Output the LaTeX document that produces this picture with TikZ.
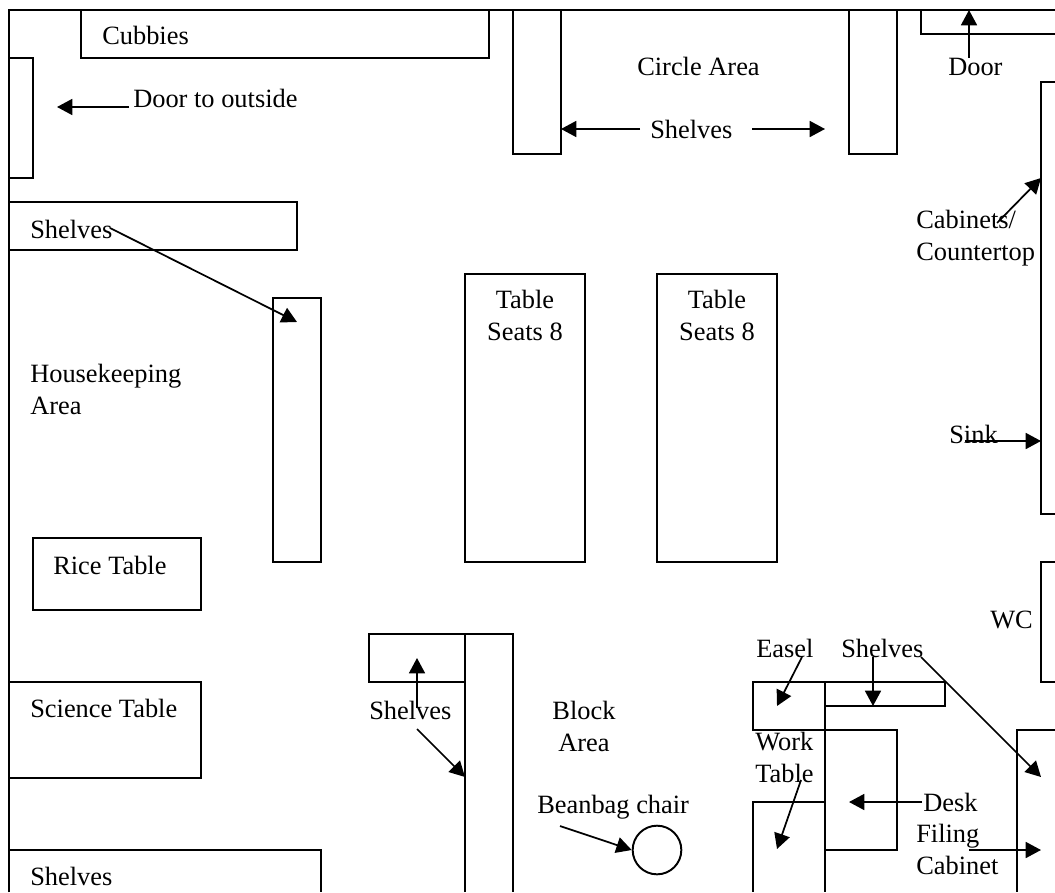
\documentclass[tikz,border=0pt]{standalone}
\usepackage{xcolor}
\usepackage{fontspec}
\setmainfont{Liberation Serif}
\usetikzlibrary{arrows.meta}
\tikzset{%
  >={Triangle[width=12pt,length=11.5pt]},
  % Specifications for style of shapes and labels:
       furniture/.style = {draw=black, line width=1.45pt},
           label/.style = {inner sep=0pt, anchor=base west, align=left,
                           font=\fontsize{19.8}{23.4}\selectfont},
      labelTable/.style = {label, anchor=base, align=center},
         pointer/.style = {->, draw=black, line width=1.3pt},
}

\begin{document}
\begin{tikzpicture}[x=0.75pt, y=-0.75pt]
  \path[use as bounding box, fill=white] (0,0) rectangle (1055,892);

  % Specification of walls and furniture
  \draw[furniture] (9,892) -- (9,10) -- (1055,10);
  \draw[furniture] (81,10) rectangle (489,58);     % cubbies
  \draw[furniture] (9,58) rectangle (33,178);      % outside door
  \draw[furniture] (9,202) rectangle (297,250);
  \draw[furniture] (273,298) rectangle (321,562);
  \draw[furniture] (513,10) rectangle (561,154);
  \draw[furniture] (849,10) rectangle (897,154);
  \draw[furniture] (1055,34) -- (921,34) -- (921,10);
  \draw[furniture] (1055,82) -- (1041,82) -- (1041,514) -- (1055,514);
  \draw[furniture] (1055,562) -- (1041,562) -- (1041,682) -- (1055,682);
  \draw[furniture] (465,274) rectangle (585,562);  % tables
  \draw[furniture] (657,274) rectangle (777,562);
  \draw[furniture] (33,538) rectangle (201,610);
  \draw[furniture] (9,682) rectangle (201,778);
  \draw[furniture] (9,892) -- (9,850) -- (321,850) -- (321,892);
  \draw[furniture] (369,634) rectangle (465,682);
  \draw[furniture] (465,892) -- (465,634) -- (513,634) -- (513,892);
  \draw[furniture] (753,682) rectangle (825,730);  % easel
  \draw[furniture] (825,682) rectangle (945,706);
  \draw[furniture] (825,730) -- (897,730) -- (897,850) -- (825,850);
  \draw[furniture] (825,682) -- (825,892);
  \draw[furniture] (825,802) -- (753,802) -- (753,892);
  \draw[furniture] (1055,730) -- (1017,730) -- (1017,892);
  \node (beanbag) [draw=black, line width=1.45pt, circle, inner sep=0pt,
                   minimum size=36.5pt] at (657,850) {};

  % Specification of labels (position only)
  \node (cubbies)      [label] at (102,45)  {Cubbies};
  \node (doorOutside)  [label] at (133,107) {Door to outside};
  \node (shelvesWall)  [label] at (30,238)  {Shelves};
  \node (circleArea)   [label] at (637,75)  {Circle Area};
  \node (shelvesCircle)[label] at (650,138) {Shelves};
  \node (door)         [label] at (948,75)  {Door};
  \node (cabinets)     [label] at (916,260) {Cabinets/\\Countertop};
  \node (tableLeft)    [labelTable] at (525,340) {Table\\Seats 8};
  \node (tableRight)   [labelTable] at (717,340) {Table\\Seats 8};
  \node (housekeeping) [label] at (30,414)  {Housekeeping\\Area};
  \node (sink)         [label] at (949,443) {Sink};
  \node (riceTable)    [label] at (53,574)  {Rice Table};
  \node (wc)           [label] at (990,628) {WC};
  \node (scienceTable) [label] at (30,717)  {Science Table};
  \node (shelvesBottom)[label] at (30,885)  {Shelves};
  \node (shelvesBlock) [label] at (369,719) {Shelves};
  \node (blockArea)    [labelTable] at (584,751) {Block\\Area};
  \node (beanbagChair) [label] at (537,813) {Beanbag chair};
  \node (easel)        [label] at (756,657) {Easel};
  \node (shelvesEasel) [label] at (841,657) {Shelves};
  \node (workTable)    [label] at (755,782) {Work\\Table};
  \node (desk)         [label] at (923,811) {Desk};
  \node (filing)       [label] at (916,874) {Filing\\Cabinet};

  % Specification of pointer ends
  \coordinate (outsideA) at (129,107);  \coordinate (outsideB) at (57,107);
  \coordinate (wallA)    at (110,228);  \coordinate (wallB)    at (297,322);
  \coordinate (circleA)  at (640,129);  \coordinate (circleB)  at (561,129);
  \coordinate (circleC)  at (752,129);  \coordinate (circleD)  at (825,129);
  \coordinate (doorA)    at (969,58);   \coordinate (doorB)    at (969,10);
  \coordinate (cabinetA) at (997,223);  \coordinate (cabinetB) at (1041,178);
  \coordinate (sinkA)    at (965,441);  \coordinate (sinkB)    at (1041,441);
  \coordinate (blockA)   at (417,708);  \coordinate (blockB)   at (417,658);
  \coordinate (blockC)   at (417,729);  \coordinate (blockD)   at (465,777);
  \coordinate (chairA)   at (560,826);  \coordinate (chairB)   at (beanbag.west);
  \coordinate (easelA)   at (802,657);  \coordinate (easelB)   at (777,706);
  \coordinate (upperA)   at (873,657);  \coordinate (upperB)   at (873,706);
  \coordinate (longA)    at (921,657);  \coordinate (longB)    at (1041,777);
  \coordinate (deskA)    at (922,802);  \coordinate (deskB)    at (849,802);
  \coordinate (filingA)  at (969,850);  \coordinate (filingB)  at (1041,850);
  \coordinate (workA)    at (801,780);  \coordinate (workB)    at (777,849);

  % Specification of pointers between the ends above
  \draw[pointer] (outsideA) -- (outsideB);
  \draw[pointer]    (wallA) -- (wallB);
  \draw[pointer]  (circleA) -- (circleB);
  \draw[pointer]  (circleC) -- (circleD);
  \draw[pointer]    (doorA) -- (doorB);
  \draw[pointer] (cabinetA) -- (cabinetB);
  \draw[pointer]    (sinkA) -- (sinkB);
  \draw[pointer]   (blockA) -- (blockB);
  \draw[pointer]   (blockC) -- (blockD);
  \draw[pointer]   (chairA) -- (chairB);
  \draw[pointer]   (easelA) -- (easelB);
  \draw[pointer]   (upperA) -- (upperB);
  \draw[pointer]    (longA) -- (longB);
  \draw[pointer]    (deskA) -- (deskB);
  \draw[pointer]  (filingA) -- (filingB);
  \draw[pointer]    (workA) -- (workB);
\end{tikzpicture}
\end{document}
